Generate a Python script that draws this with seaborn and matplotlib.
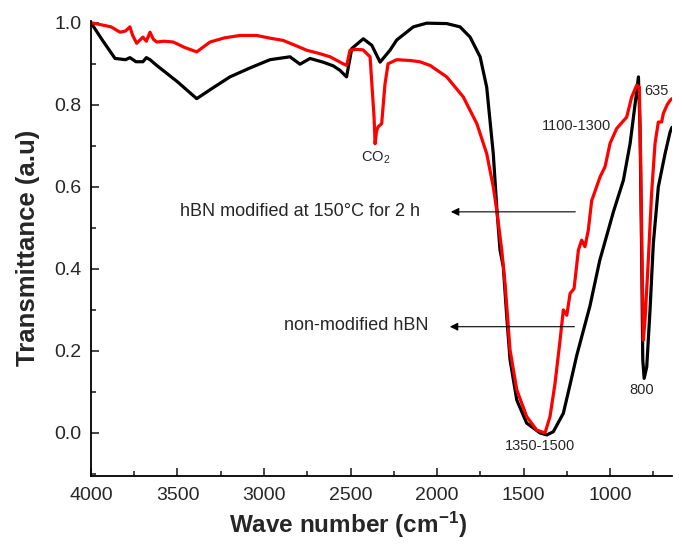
import matplotlib
matplotlib.use("Agg")
import matplotlib.pyplot as plt
import seaborn as sns
import pandas as pd
from matplotlib.ticker import MultipleLocator

# ---- data ----
black_wn = [4000, 3930, 3861, 3800, 3775, 3740, 3700, 3680, 3659, 3620, 3500, 3389, 3300, 3197, 3080,
            2965, 2850, 2792, 2734, 2659, 2600, 2561, 2523, 2493, 2426, 2377, 2329,
            2272, 2233, 2137, 2060, 1944, 1867, 1809, 1751, 1713, 1675, 1655, 1636,
            1617, 1597, 1578, 1539, 1482, 1405, 1366, 1328, 1270, 1230, 1192, 1116,
            1060, 980, 923, 884, 855, 836, 827, 817, 811, 803, 788, 769, 750, 721,
            682, 653, 642]
black_t = [1.0, 0.955, 0.913, 0.91, 0.915, 0.905, 0.905, 0.915, 0.91, 0.896, 0.856, 0.815, 0.84, 0.868, 0.89,
           0.91, 0.917, 0.899, 0.913, 0.904, 0.895, 0.884, 0.868, 0.937, 0.961, 0.945, 0.904,
           0.933, 0.958, 0.99, 0.999, 0.998, 0.99, 0.965, 0.917, 0.843, 0.681, 0.551, 0.446,
           0.405, 0.283, 0.178, 0.08, 0.024, 0.0, -0.005, 0.003, 0.048, 0.12, 0.19, 0.31,
           0.42, 0.54, 0.616, 0.706, 0.803, 0.868, 0.746, 0.421, 0.178, 0.133, 0.161, 0.30,
           0.462, 0.60, 0.681, 0.734, 0.745]

red_wn = [4000, 3940, 3884, 3832, 3800, 3775, 3760, 3736, 3700, 3680, 3659, 3640, 3620, 3580,
          3524, 3460, 3389, 3312, 3230, 3139, 3042, 2960, 2890, 2820, 2753, 2680, 2618,
          2543, 2522, 2503, 2470, 2428, 2387, 2364, 2358, 2350, 2341, 2320, 2301, 2283,
          2233, 2156, 2100, 2040, 1944, 1848, 1770, 1713, 1675, 1655, 1626, 1607, 1578,
          1539, 1482, 1424, 1376, 1347, 1318, 1289, 1270, 1250, 1231, 1208, 1183, 1164,
          1145, 1126, 1106, 1098, 1058, 1029, 1000, 962, 904, 875, 846, 831, 823, 815,
          808, 798, 779, 760, 740, 721, 702, 692, 670, 653, 642]
red_t = [1.0, 0.995, 0.99, 0.977, 0.98, 0.99, 0.97, 0.95, 0.965, 0.955, 0.977, 0.96, 0.953, 0.955,
         0.953, 0.94, 0.929, 0.953, 0.963, 0.969, 0.969, 0.962, 0.957, 0.945, 0.933, 0.925, 0.917,
         0.90, 0.896, 0.933, 0.935, 0.934, 0.917, 0.77, 0.705, 0.735, 0.746, 0.754, 0.85, 0.90,
         0.91, 0.908, 0.905, 0.896, 0.868, 0.819, 0.754, 0.681, 0.60, 0.543, 0.446, 0.365, 0.202,
         0.105, 0.04, 0.007, 0.0, 0.04, 0.121, 0.226, 0.30, 0.287, 0.34, 0.352, 0.446, 0.47,
         0.454, 0.494, 0.567, 0.576, 0.624, 0.649, 0.706, 0.742, 0.77, 0.819, 0.848, 0.843, 0.665, 0.421,
         0.226, 0.275, 0.421, 0.584, 0.706, 0.758, 0.758, 0.779, 0.80, 0.811, 0.815]

x_ticks = [4000, 3500, 3000, 2500, 2000, 1500, 1000]
y_ticks = [0.0, 0.2, 0.4, 0.6, 0.8, 1.0]

sns.set_style("ticks")
plt.rcParams['font.family'] = ['Liberation Sans', 'DejaVu Sans']
plt.rcParams['mathtext.fontset'] = 'custom'
plt.rcParams['mathtext.rm'] = 'Liberation Sans'
plt.rcParams['mathtext.bf'] = 'Liberation Sans:bold'
plt.rcParams['mathtext.it'] = 'Liberation Sans:italic'

df_black = pd.DataFrame({'wn': black_wn, 't': black_t})
df_red = pd.DataFrame({'wn': red_wn, 't': red_t})

fig = plt.figure(figsize=(6.79, 5.45), dpi=100)
ax = fig.add_axes([0.134, 0.1266, 0.8557, 0.8354])

sns.lineplot(data=df_black, x='wn', y='t', color='black', lw=2.3, sort=False, ax=ax)
sns.lineplot(data=df_red, x='wn', y='t', color='#ff0000', lw=2.3, sort=False, ax=ax)

ax.set_xlim(4000, 642)
ax.set_ylim(-0.105, 1.005)
ax.set_xticks(x_ticks)
ax.set_xticklabels([str(v) for v in x_ticks])
ax.set_yticks(y_ticks)
ax.set_yticklabels([f"{v:.1f}" for v in y_ticks])
ax.xaxis.set_minor_locator(MultipleLocator(250))
ax.yaxis.set_minor_locator(MultipleLocator(0.1))
ax.tick_params(which='major', direction='in', length=6, width=1.2, labelsize=14)
ax.tick_params(axis='x', which='major', pad=8)
ax.tick_params(axis='y', which='major', pad=7)
ax.tick_params(which='minor', direction='in', length=3.5, width=1.2)

for s in ['top', 'right']:
    ax.spines[s].set_visible(False)
for s in ['left', 'bottom']:
    ax.spines[s].set_linewidth(1.3)
    ax.spines[s].set_color('black')

ax.set_xlabel(r'Wave number (cm$^{\mathbf{-1}}$)', fontsize=17.5, fontweight='bold', labelpad=3)
ax.xaxis.set_label_coords(0.443, -0.075)
ax.set_ylabel('Transmittance (a.u)', fontsize=18.5, fontweight='bold', labelpad=10)

# annotations
ax.text(2353, 0.67, r'CO$_2$', fontsize=10.5, ha='center', va='center')
ax.text(1194, 0.748, '1100-1300', fontsize=10.5, ha='center', va='center')
ax.text(731, 0.834, '635', fontsize=10.5, ha='center', va='center')
ax.text(815, 0.105, '800', fontsize=10.5, ha='center', va='center')
ax.text(1405, -0.032, '1350-1500', fontsize=10.5, ha='center', va='center')

ax.annotate('', xy=(1936, 0.539), xytext=(1185, 0.539),
            arrowprops=dict(arrowstyle='-|>', color='black', lw=0.8, mutation_scale=12))
ax.text(2098, 0.541, 'hBN modified at 150\u00b0C for 2 h', fontsize=13, ha='right', va='center')
ax.annotate('', xy=(1942, 0.259), xytext=(1190, 0.259),
            arrowprops=dict(arrowstyle='-|>', color='black', lw=0.8, mutation_scale=12))
ax.text(2052, 0.262, 'non-modified hBN', fontsize=13, ha='right', va='center')

fig.savefig('out.png', dpi=100)
